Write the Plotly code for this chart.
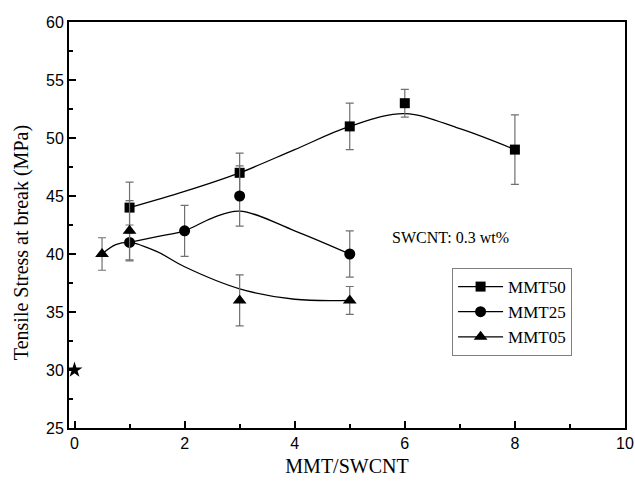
import plotly.graph_objects as go

# ---- data ----
x50 = [1, 3, 5, 6, 8]
y50 = [44, 47, 51, 53, 49]
e50 = [2.2, 1.7, 2.0, 1.2, 3.0]

x25 = [1, 2, 3, 5]
y25 = [41, 42, 45, 40]
e25 = [1.5, 2.2, 2.6, 2.0]

x05 = [0.5, 1, 3, 5]
y05 = [40, 42, 36, 36]
e05 = [1.4, 2.6, 2.2, 1.2]

# smoothed fit curves
fx50 = [1, 2, 3, 4, 5, 6, 7, 8]
fy50 = [44, 45.4, 47, 49, 51, 52.1, 50.8, 49]
fx25 = [1, 1.5, 2, 2.5, 3, 4, 5]
fy25 = [41, 41.5, 42, 43.1, 43.7, 42.0, 40]
fx05 = [0.5, 0.75, 1, 1.5, 2, 3, 4, 5]
fy05 = [40, 40.8, 41, 40.2, 38.9, 37.0, 36.1, 36]

ref_x = [0]
ref_y = [30]

names = ["MMT50", "MMT25", "MMT05"]
symbols = ["square", "circle", "triangle-up"]

serif = "Liberation Serif, Times New Roman, serif"
sans = "Liberation Sans, Arial, sans-serif"

fig = go.Figure()

for fx, fy in [(fx50, fy50), (fx25, fy25), (fx05, fy05)]:
    fig.add_trace(go.Scatter(x=fx, y=fy, mode="lines", line=dict(color="black", width=1.3, shape="spline", smoothing=1.0),
                             showlegend=False, hoverinfo="skip"))

for xs, ys, es, sym, sz in [(x50, y50, e50, "square", 10), (x25, y25, e25, "circle", 11), (x05, y05, e05, "triangle-up", 12)]:
    fig.add_trace(go.Scatter(x=xs, y=ys, mode="markers",
                             marker=dict(symbol=sym, size=sz, color="black"),
                             error_y=dict(type="data", array=es, visible=True, color="#707070", thickness=1.2, width=4),
                             showlegend=False))

fig.add_trace(go.Scatter(x=ref_x, y=ref_y, mode="markers", marker=dict(symbol="star", size=12, color="black"), showlegend=False))

for n, sym, sz in zip(names, symbols, [10, 11, 12]):
    fig.add_trace(go.Scatter(x=[None], y=[None], mode="lines+markers", name=n,
                             line=dict(color="black", width=1.3),
                             marker=dict(symbol=sym, size=sz, color="black")))

fig.add_annotation(x=0.795, y=0.468, xref="paper", yref="paper", text="SWCNT: 0.3 wt%", showarrow=False,
                   font=dict(family=serif, size=16, color="black"))
fig.add_annotation(x=-0.084, y=0.456, xref="paper", yref="paper", text="Tensile Stress at break (MPa)",
                   textangle=-90, showarrow=False, xanchor="center", yanchor="middle",
                   font=dict(family=serif, size=20, color="black"))

fig.update_layout(
    width=635, height=483,
    margin=dict(l=69, r=10, t=22, b=55),
    plot_bgcolor="white", paper_bgcolor="white",
    legend=dict(x=0.689, y=0.394, xanchor="left", yanchor="top", itemwidth=45,
                bordercolor="#808080", borderwidth=1, bgcolor="white",
                font=dict(family=serif, size=17, color="black"), tracegroupgap=0),
)
fig.update_xaxes(range=[-0.1, 10], tickvals=[0, 2, 4, 6, 8, 10], ticks="inside", ticklen=7, tickwidth=2,
                 tickcolor="black", showline=True, linecolor="black", linewidth=2, mirror=True, showgrid=False,
                 zeroline=False, automargin=False, tickfont=dict(family=sans, size=16, color="black"),
                 minor=dict(tickvals=[1, 3, 5, 7, 9], ticks="inside", ticklen=4, tickwidth=2, tickcolor="black"),
                 title=dict(text="MMT/SWCNT", font=dict(family=serif, size=20, color="black"), standoff=8))
fig.update_yaxes(range=[25, 60], tickvals=[25, 30, 35, 40, 45, 50, 55, 60], ticks="inside", ticklen=7, tickwidth=2,
                 tickcolor="black", showline=True, linecolor="black", linewidth=2, mirror=True, showgrid=False,
                 zeroline=False, automargin=False, tickfont=dict(family=sans, size=16, color="black"),
                 minor=dict(tickvals=[27.5, 32.5, 37.5, 42.5, 47.5, 52.5, 57.5], ticks="inside", ticklen=4, tickwidth=2, tickcolor="black"))

fig.write_html("out.html")
